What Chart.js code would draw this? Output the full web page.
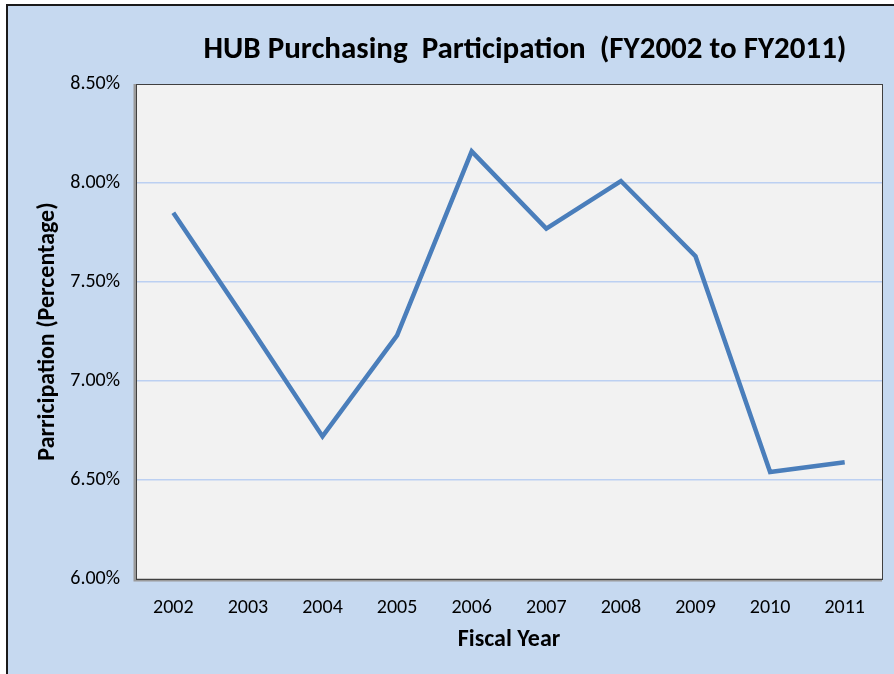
<!DOCTYPE html>
<html>
<head>
<meta charset="utf-8">
<script src="https://cdn.jsdelivr.net/npm/chart.js@4.4.1/dist/chart.umd.min.js"></script>
<style>
  html, body { margin: 0; padding: 0; background: #ffffff; }
  #wrap { width: 894px; height: 674px; }
</style>
</head>
<body>
<div id="wrap"><canvas id="myChart" width="894" height="674"></canvas></div>
<script>
const years = ['2002', '2003', '2004', '2005', '2006', '2007', '2008', '2009', '2010', '2011'];
const participation = [7.85, 7.29, 6.72, 7.23, 8.16, 7.77, 8.01, 7.63, 6.54, 6.59];
const yTicks = [6.0, 6.5, 7.0, 7.5, 8.0, 8.5];

const titleText = 'HUB Purchasing  Participation  (FY2002 to FY2011)';
const fontFam = "Carlito, Lato, 'Open Sans', sans-serif";

// background, outer frame, plot area box and title
const frame = {
  id: 'frame',
  beforeDraw(chart) {
    const ctx = chart.ctx;
    const a = chart.chartArea;
    ctx.save();
    ctx.fillStyle = '#ffffff';
    ctx.fillRect(0, 0, chart.width, chart.height);
    ctx.fillStyle = '#c6d9f0';
    ctx.fillRect(8, 6, chart.width - 8, chart.height - 6);
    ctx.fillStyle = '#1a1a1a';
    ctx.fillRect(6, 4, 2, chart.height - 4);
    ctx.fillRect(6, 4, chart.width - 6, 2);
    ctx.fillStyle = '#f2f2f2';
    ctx.fillRect(a.left, a.top, a.right - a.left, a.bottom - a.top);
    ctx.restore();
  },
  afterDraw(chart) {
    const ctx = chart.ctx;
    const a = chart.chartArea;
    ctx.save();
    ctx.strokeStyle = '#9a9a9a';
    ctx.lineWidth = 3;
    ctx.beginPath();
    ctx.moveTo(a.left - 1, a.top);
    ctx.lineTo(a.left - 1, a.bottom + 1);
    ctx.lineTo(a.right, a.bottom + 1);
    ctx.stroke();
    ctx.strokeStyle = '#404040';
    ctx.lineWidth = 1;
    ctx.strokeRect(a.left + 0.5, a.top + 0.5, a.right - a.left, a.bottom - a.top);
    ctx.fillStyle = '#000000';
    ctx.font = 'bold 31px ' + fontFam;
    ctx.textAlign = 'center';
    ctx.textBaseline = 'middle';
    ctx.fillText(titleText, 525, 50);
    ctx.restore();
  }
};

const config = {
  type: 'line',
  data: {
    labels: years,
    datasets: [{
      label: 'Participation',
      data: participation,
      borderColor: '#4a7ebb',
      borderWidth: 4.5,
      pointRadius: 0,
      tension: 0,
      fill: false
    }]
  },
  options: {
    responsive: false,
    animation: false,
    layout: { padding: { left: 34, right: 12, top: 84, bottom: 20 } },
    plugins: {
      legend: { display: false },
      tooltip: { enabled: false }
    },
    scales: {
      x: {
        offset: true,
        grid: { display: false, drawTicks: false },
        border: { display: false },
        ticks: { color: '#000', padding: 17, font: { family: fontFam, size: 20 } },
        title: {
          display: true,
          text: 'Fiscal Year',
          color: '#000',
          padding: 0,
          font: { family: fontFam, size: 24, weight: 'bold' }
        },
        afterFit(scale) { scale.height = 75; }
      },
      y: {
        min: 6,
        max: 8.5,
        afterBuildTicks(scale) { scale.ticks = yTicks.map(v => ({ value: v })); },
        grid: {
          drawTicks: false,
          color: ctx => (ctx.tick && (ctx.tick.value === 6 || ctx.tick.value === 8.5)) ? 'rgba(0,0,0,0)' : '#bcd0f2',
          lineWidth: 1.5
        },
        border: { display: false },
        ticks: {
          color: '#000',
          padding: 16,
          font: { family: fontFam, size: 20 },
          callback: v => v.toFixed(2) + '%'
        },
        title: {
          display: true,
          text: 'Parricipation (Percentage)',
          color: '#000',
          padding: 0,
          font: { family: fontFam, size: 24, weight: 'bold' }
        },
        afterFit(scale) { scale.width = 102; }
      }
    }
  },
  plugins: [frame]
};

const myChart = new Chart(document.getElementById('myChart'), config);
</script>
</body>
</html>
